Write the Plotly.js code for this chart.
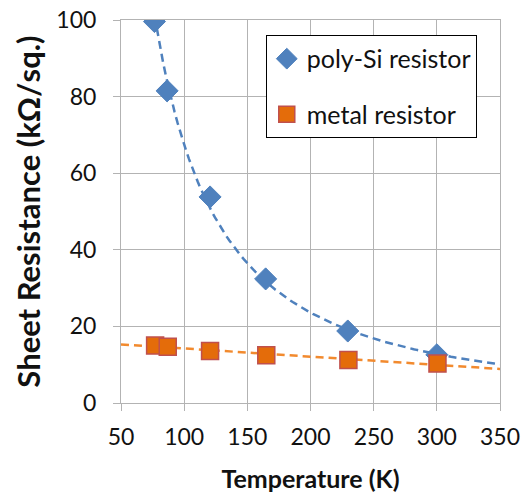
<!DOCTYPE html>
<html>
<head>
<meta charset="utf-8">
<script src="https://cdn.plot.ly/plotly-3.0.1.min.js"></script>
<style>html,body{margin:0;padding:0;background:#fff;}#chart{width:522px;height:493px;}</style>
</head>
<body>
<div id="chart"></div>
<script>
// Data
const polyT = [76.5, 86.5, 120.5, 164.5, 229.5, 300];
const polyR = [99.6, 81.5, 53.8, 32.4, 18.8, 12.6];
const metalT = [77, 87, 120.5, 165, 230, 300.5];
const metalR = [15.0, 14.7, 13.6, 12.5, 11.2, 10.3];
const xTicks = [50, 100, 150, 200, 250, 300, 350];
const yTicks = [0, 20, 40, 60, 80, 100];
const polyName = 'poly-Si resistor';
const metalName = 'metal resistor';

// Trendlines fitted from the data (power fit for poly-Si, linear fit for metal)
function linFit(xs, ys) {
  const n = xs.length;
  const mx = xs.reduce((a, b) => a + b, 0) / n;
  const my = ys.reduce((a, b) => a + b, 0) / n;
  let sxy = 0, sxx = 0;
  for (let i = 0; i < n; i++) { sxy += (xs[i] - mx) * (ys[i] - my); sxx += (xs[i] - mx) ** 2; }
  const b = sxy / sxx;
  return { a: my - b * mx, b: b };
}
const pf = linFit(polyT.map(Math.log), polyR.map(Math.log));
const lf = linFit(metalT, metalR);
const xMin = xTicks[0], xMax = xTicks[xTicks.length - 1];
const powX = [], powY = [];
const nS = 120;
for (let i = 0; i <= nS; i++) {
  const x = polyT[0] + (xMax - polyT[0]) * i / nS;
  powX.push(x); powY.push(Math.exp(pf.a) * Math.pow(x, pf.b));
}
const linX = [xMin, xMax];
const linY = linX.map(x => lf.a + lf.b * x);

const font = 'Lato, "Open Sans", "Liberation Sans", sans-serif';
const traces = [
  { x: powX, y: powY, mode: 'lines', showlegend: false, hoverinfo: 'skip',
    line: { color: '#4F81BD', width: 2.5, dash: '8px,5px' } },
  { x: linX, y: linY, mode: 'lines', showlegend: false, hoverinfo: 'skip',
    line: { color: '#F28A2E', width: 2.5, dash: '8px,5px' } },
  { x: polyT, y: polyR, mode: 'markers', name: polyName, legendgroup: 'a',
    marker: { symbol: 'diamond', size: 17, color: '#4F81BD', line: { color: '#4F81BD', width: 1 } } },
  { x: metalT, y: metalR, mode: 'markers', name: metalName, legendgroup: 'b',
    marker: { symbol: 'square', size: 17, color: '#E46C0A', line: { color: '#C0504D', width: 1.5 } } }
];

const axisCommon = {
  showgrid: true, gridcolor: '#b3b3b3', gridwidth: 1,
  showline: true, linecolor: '#b3b3b3', linewidth: 1, mirror: true,
  ticks: 'outside', ticklen: 7, tickcolor: '#b3b3b3', tickwidth: 1,
  zeroline: false, tickfont: { family: font, size: 23, color: '#111111' }
};

const layout = {
  width: 522, height: 493,
  margin: { l: 121, r: 22, t: 20, b: 90, pad: 0 },
  paper_bgcolor: '#ffffff', plot_bgcolor: '#ffffff',
  font: { family: font, color: '#111111' },
  xaxis: Object.assign({}, axisCommon, {
    range: [xMin, xMax], tickmode: 'array', tickvals: xTicks, ticktext: xTicks.map(String),
    ticklabelstandoff: 6,
    title: { text: '<b>Temperature (K)</b>', font: { family: font, size: 25, color: '#111111' }, standoff: 21 }
  }),
  yaxis: Object.assign({}, axisCommon, {
    range: [yTicks[0], yTicks[yTicks.length - 1]], tickmode: 'array', tickvals: yTicks, ticktext: yTicks.map(String),
    ticklabelstandoff: 12,
    title: { text: '<b>Sheet Resistance (kΩ/sq.)</b>', font: { family: font, size: 31, color: '#111111' }, standoff: 6 }
  }),
  legend: {
    x: 0.382, y: 0.961, xanchor: 'left', yanchor: 'top',
    bgcolor: '#ffffff', bordercolor: '#000000', borderwidth: 1,
    font: { family: font, size: 25, color: '#111111' },
    tracegroupgap: 20, itemwidth: 30
  },
  showlegend: true
};

Plotly.newPlot('chart', traces, layout, { displayModeBar: false, staticPlot: true });
</script>
</body>
</html>
